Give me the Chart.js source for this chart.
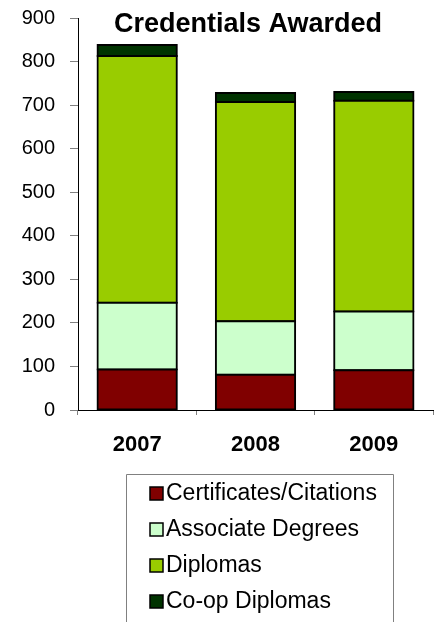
<!DOCTYPE html>
<html>
<head>
<meta charset="utf-8">
<script src="https://cdn.jsdelivr.net/npm/chart.js@4/dist/chart.umd.min.js"></script>
<style>
  html, body { margin: 0; padding: 0; background: #fff; }
  #wrap { width: 435px; height: 622px; }
</style>
</head>
<body>
<div id="wrap"><canvas id="c" width="435" height="622"></canvas></div>
<script>
// data
const years = ['2007', '2008', '2009'];
const certificates = [93, 81, 91];
const associate = [153, 123, 135];
const diplomas = [567, 503, 484];
const coop = [25, 21, 20];
const yTicks = [0, 100, 200, 300, 400, 500, 600, 700, 800, 900];

const FONT = '"Liberation Sans", Arial, sans-serif';

// title sits inside the plot area, so draw it by hand
const titlePlugin = {
  id: 'insideTitle',
  afterDraw(chart) {
    const ctx = chart.ctx;
    ctx.save();
    ctx.font = 'bold 27px ' + FONT;
    ctx.fillStyle = '#000';
    ctx.textAlign = 'center';
    ctx.textBaseline = 'middle';
    ctx.fillText('Credentials Awarded', 248, 25);
    ctx.restore();
  }
};

// boxed vertical legend under the axis
const boxLegend = {
  id: 'boxLegend',
  afterDraw(chart) {
    const ctx = chart.ctx;
    const left = 126, top = 474, right = 393;
    ctx.save();
    ctx.strokeStyle = '#808080';
    ctx.lineWidth = 1;
    ctx.beginPath();
    ctx.moveTo(left + 0.5, 630);
    ctx.lineTo(left + 0.5, top + 0.5);
    ctx.lineTo(right + 0.5, top + 0.5);
    ctx.lineTo(right + 0.5, 630);
    ctx.stroke();

    ctx.font = '23px ' + FONT;
    ctx.textBaseline = 'middle';
    ctx.textAlign = 'left';
    chart.data.datasets.forEach((ds, i) => {
      const cy = 494 + i * 36;
      ctx.fillStyle = ds.backgroundColor;
      ctx.fillRect(150, cy - 7, 13, 13);
      ctx.strokeStyle = '#000';
      ctx.lineWidth = 1.5;
      ctx.strokeRect(150, cy - 7, 13, 13);
      ctx.fillStyle = '#000';
      ctx.fillText(ds.label, 166, cy);
    });
    ctx.restore();
  }
};

const mk = (label, data, color) => ({
  label: label,
  data: data,
  backgroundColor: color,
  borderColor: '#000',
  borderWidth: 2,
  borderSkipped: false,
  inflateAmount: 1,
  barPercentage: 0.67,
  categoryPercentage: 1
});

new Chart(document.getElementById('c'), {
  type: 'bar',
  data: {
    labels: years,
    datasets: [
      mk('Certificates/Citations', certificates, '#800000'),
      mk('Associate Degrees', associate, '#CCFFCC'),
      mk('Diplomas', diplomas, '#99CC00'),
      mk('Co-op Diplomas', coop, '#003300')
    ]
  },
  options: {
    responsive: false,
    animation: false,
    layout: { padding: { left: 0, top: 18, right: 2, bottom: 152 } },
    plugins: {
      legend: { display: false },
      title: { display: false },
      tooltip: { enabled: false }
    },
    scales: {
      x: {
        stacked: true,
        afterFit(s) { s.height = 60; s.paddingLeft = 0; s.paddingRight = 0; },
        grid: { display: true, offset: true, drawOnChartArea: false, tickLength: 5, color: '#808080' },
        border: { display: true, color: '#000', width: 1 },
        ticks: { color: '#000', font: { family: FONT, size: 22, weight: 'bold' }, padding: 17 }
      },
      y: {
        stacked: true,
        min: 0,
        max: 900,
        afterFit(s) { s.width = 78; s.paddingTop = 0; s.paddingBottom = 0; },
        afterBuildTicks(s) { s.ticks = yTicks.map(v => ({ value: v })); },
        grid: { display: true, drawOnChartArea: false, tickLength: 8, color: '#808080' },
        border: { display: true, color: '#000', width: 1 },
        ticks: { color: '#000', font: { family: FONT, size: 20 }, padding: 15 }
      }
    }
  },
  plugins: [titlePlugin, boxLegend]
});
</script>
</body>
</html>
